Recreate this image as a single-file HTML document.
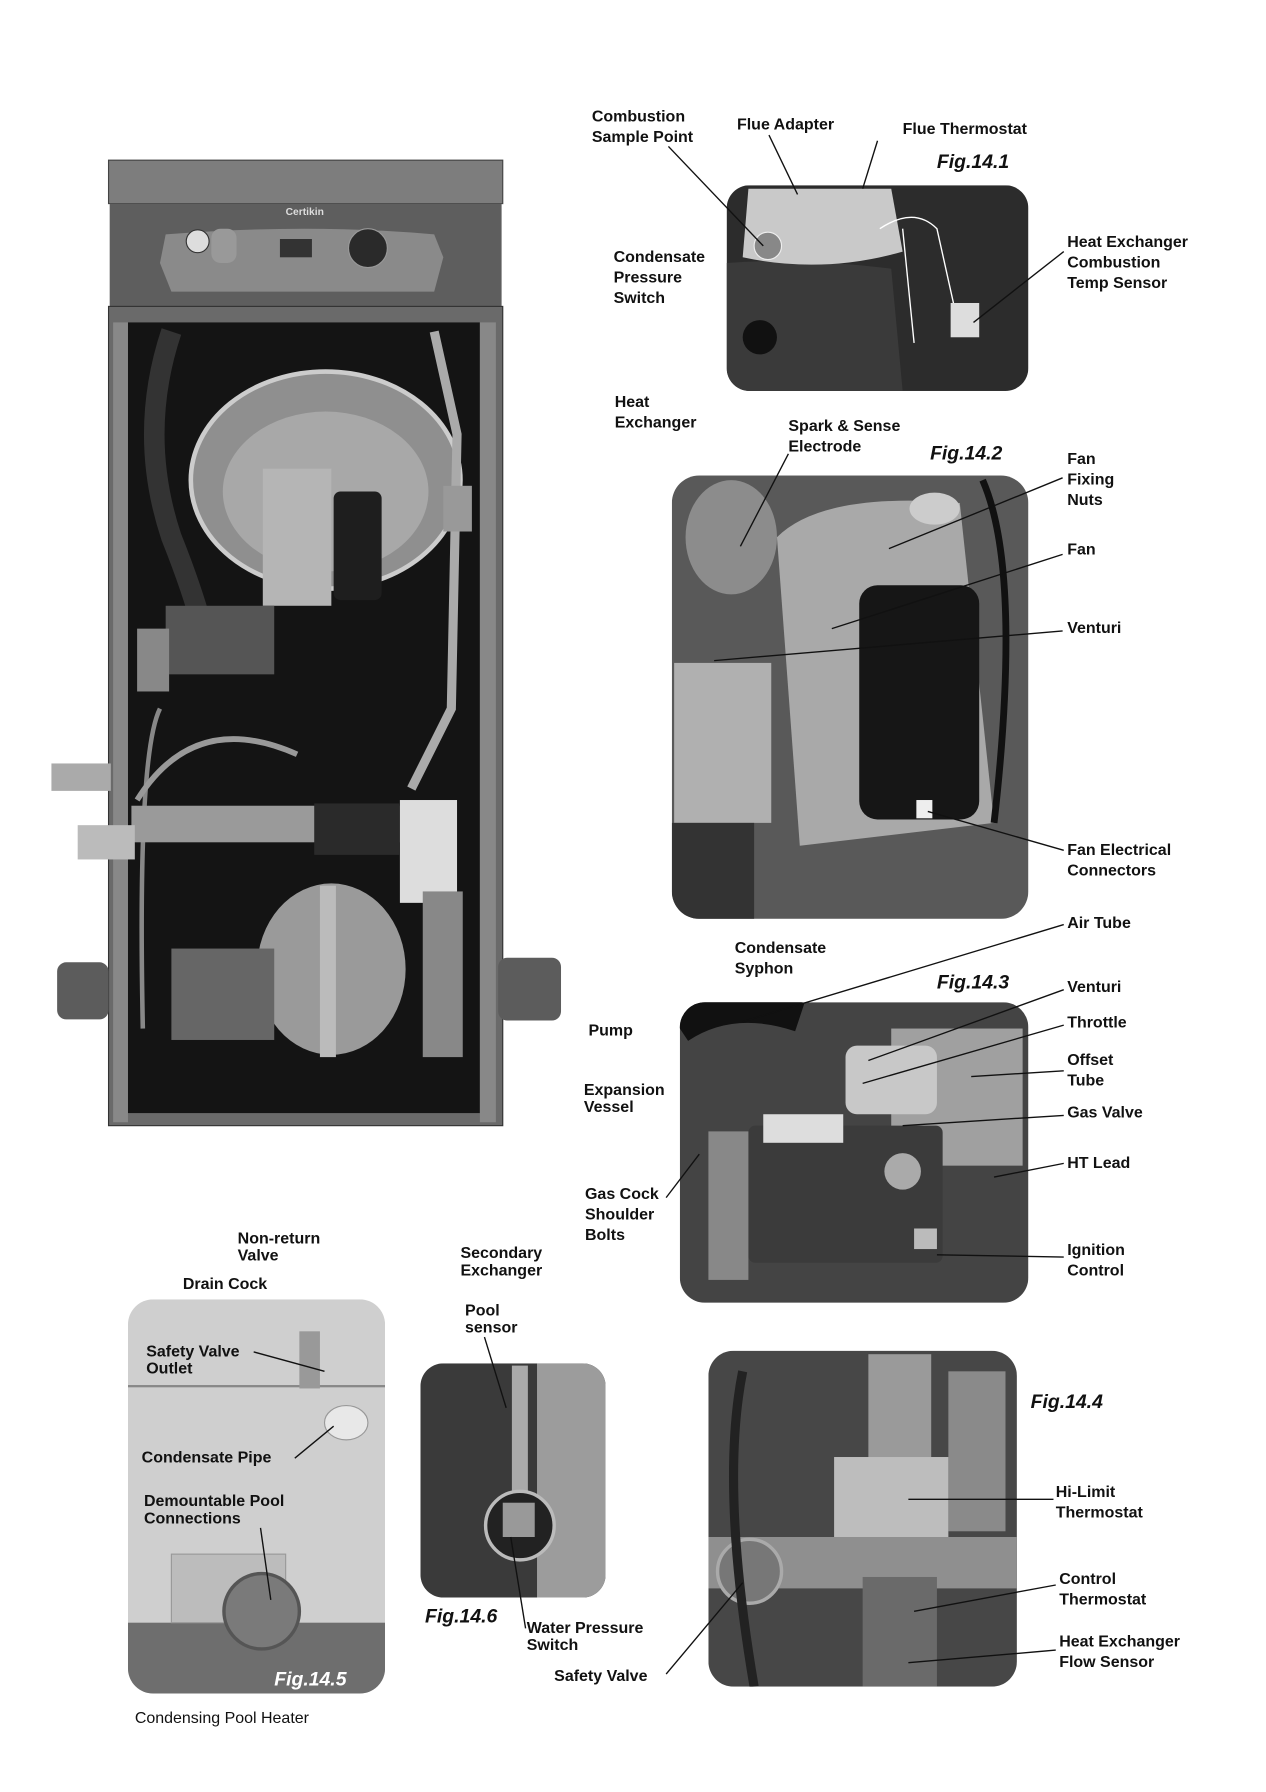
<!DOCTYPE html>
<html><head><meta charset="utf-8"><style>
html,body{margin:0;padding:0;background:#fff;}
svg{display:block}
text{font-family:"Liberation Sans",Arial,sans-serif;font-weight:bold;font-size:14px;fill:#111}
.fig{font-style:italic;font-size:17px}
.l{stroke:#111;stroke-width:1.2;fill:none}
.w{stroke:#fff;stroke-width:1.2;fill:none}
</style></head><body>
<svg width="1266" height="1792" viewBox="0 0 1108 1568" xmlns="http://www.w3.org/2000/svg">
<defs>
<clipPath id="c1"><rect x="636" y="162" width="264" height="180" rx="20"/></clipPath>
<clipPath id="c2"><rect x="588" y="416" width="312" height="388" rx="24"/></clipPath>
<clipPath id="c3"><rect x="595" y="877" width="305" height="263" rx="22"/></clipPath>
<clipPath id="c4"><rect x="620" y="1182" width="270" height="294" rx="22"/></clipPath>
<clipPath id="c5"><rect x="112" y="1137" width="225" height="345" rx="22"/></clipPath>
<clipPath id="c6"><rect x="368" y="1193" width="162" height="205" rx="20"/></clipPath>
</defs>
<rect width="1108" height="1568" fill="#fff"/>
<!-- main heater -->
<rect x="95" y="140" width="345" height="38" fill="#7d7d7d" stroke="#444"/>
<rect x="96" y="178" width="343" height="90" fill="#5e5e5e"/>
<path d="M145 205 Q270 195 380 205 L388 225 L380 255 L150 255 L140 230 Z" fill="#8a8a8a"/>
<circle cx="173" cy="211" r="10" fill="#ddd" stroke="#333"/>
<circle cx="322" cy="217" r="17" fill="#2a2a2a" stroke="#999"/>
<rect x="185" y="200" width="22" height="30" rx="8" fill="#999"/>
<rect x="245" y="209" width="28" height="16" fill="#333"/>
<text x="250" y="188" style="font-size:9px;fill:#ddd">Certikin</text>
<rect x="95" y="268" width="345" height="717" fill="#6a6a6a" stroke="#333"/>
<rect x="112" y="282" width="308" height="692" fill="#141414"/>
<rect x="99" y="282" width="13" height="700" fill="#888"/>
<rect x="420" y="282" width="14" height="700" fill="#888"/>
<ellipse cx="285" cy="420" rx="118" ry="95" fill="#8f8f8f" stroke="#ccc" stroke-width="4"/>
<ellipse cx="285" cy="430" rx="90" ry="70" fill="#a8a8a8"/>
<rect x="230" y="410" width="60" height="120" fill="#b5b5b5"/>
<rect x="292" y="430" width="42" height="95" rx="6" fill="#1e1e1e"/>
<path d="M150 290 Q120 380 150 470 Q170 520 180 560" stroke="#333" stroke-width="18" fill="none"/>
<rect x="145" y="530" width="95" height="60" fill="#555"/>
<rect x="120" y="550" width="28" height="55" fill="#888"/>
<path d="M380 290 L400 380 L395 620 L360 690" stroke="#aaa" stroke-width="8" fill="none"/>
<rect x="388" y="425" width="25" height="40" fill="#999"/>
<path d="M140 620 Q120 660 125 900" stroke="#888" stroke-width="4" fill="none"/>
<path d="M120 700 Q170 620 260 660" stroke="#999" stroke-width="5" fill="none"/>
<rect x="115" y="705" width="255" height="32" fill="#9a9a9a"/>
<rect x="68" y="722" width="50" height="30" fill="#bbb"/>
<rect x="45" y="668" width="52" height="24" fill="#aaa"/>
<rect x="350" y="700" width="50" height="90" fill="#ddd"/>
<rect x="275" y="703" width="75" height="45" fill="#2a2a2a"/>
<rect x="370" y="780" width="35" height="145" fill="#888"/>
<ellipse cx="290" cy="848" rx="65" ry="75" fill="#9a9a9a"/>
<rect x="280" y="775" width="14" height="150" fill="#bbb"/>
<rect x="150" y="830" width="90" height="80" fill="#666"/>
<rect x="50" y="842" width="45" height="50" rx="8" fill="#5c5c5c"/>
<rect x="436" y="838" width="55" height="55" rx="8" fill="#5c5c5c"/>
<!-- Fig 14.1 -->
<g clip-path="url(#c1)">
<rect x="636" y="162" width="264" height="180" fill="#2c2c2c"/>
<path d="M636 230 Q700 225 780 235 L790 342 L636 342 Z" fill="#3a3a3a"/>
<path d="M655 165 L780 165 L790 220 Q720 240 650 225 Z" fill="#c9c9c9"/>
<circle cx="672" cy="215" r="12" fill="#888" stroke="#eee"/>
<path d="M770 200 Q800 180 820 200 L840 290 M790 200 L800 300" class="w" stroke-width="2"/>
<rect x="832" y="265" width="25" height="30" fill="#ddd"/>
<circle cx="665" cy="295" r="15" fill="#111"/>
</g>
<!-- Fig 14.2 -->
<g clip-path="url(#c2)">
<rect x="588" y="416" width="312" height="388" fill="#595959"/>
<path d="M680 470 Q720 430 840 440 L870 720 L700 740 Z" fill="#a9a9a9"/>
<rect x="752" y="512" width="105" height="205" rx="16" fill="#161616"/>
<ellipse cx="640" cy="470" rx="40" ry="50" fill="#8c8c8c"/>
<rect x="590" y="580" width="85" height="140" fill="#b0b0b0"/>
<rect x="588" y="720" width="72" height="84" fill="#333"/>
<path d="M860 420 Q895 500 870 720" stroke="#111" stroke-width="6" fill="none"/>
<rect x="802" y="700" width="14" height="16" fill="#eee"/>
<ellipse cx="818" cy="445" rx="22" ry="14" fill="#ccc"/>
</g>
<!-- Fig 14.3 -->
<g clip-path="url(#c3)">
<rect x="595" y="877" width="305" height="263" fill="#444"/>
<path d="M595 900 Q640 870 700 890" stroke="#111" stroke-width="26" fill="none"/>
<rect x="780" y="900" width="115" height="120" fill="#a0a0a0"/>
<rect x="740" y="915" width="80" height="60" rx="10" fill="#c8c8c8"/>
<rect x="655" y="985" width="170" height="120" rx="6" fill="#3b3b3b"/>
<rect x="668" y="975" width="70" height="25" fill="#ddd"/>
<circle cx="790" cy="1025" r="16" fill="#aaa"/>
<rect x="620" y="990" width="35" height="130" fill="#888"/>
<rect x="800" y="1075" width="20" height="18" fill="#bbb"/>
</g>
<!-- Fig 14.4 -->
<g clip-path="url(#c4)">
<rect x="620" y="1182" width="270" height="294" fill="#474747"/>
<rect x="760" y="1185" width="55" height="120" fill="#9a9a9a"/>
<rect x="830" y="1200" width="50" height="140" fill="#8a8a8a"/>
<rect x="730" y="1275" width="100" height="75" fill="#bdbdbd"/>
<rect x="620" y="1345" width="270" height="45" fill="#8f8f8f"/>
<circle cx="656" cy="1375" r="28" fill="#777" stroke="#aaa" stroke-width="3"/>
<rect x="755" y="1380" width="65" height="96" fill="#6a6a6a"/>
<path d="M650 1200 Q630 1300 660 1476" stroke="#222" stroke-width="8" fill="none"/>
</g>
<!-- Fig 14.5 -->
<g clip-path="url(#c5)">
<rect x="112" y="1137" width="225" height="345" fill="#cfcfcf"/>
<rect x="112" y="1212" width="225" height="2" fill="#888"/>
<rect x="112" y="1420" width="225" height="62" fill="#6e6e6e"/>
<rect x="150" y="1360" width="100" height="60" fill="#bcbcbc" stroke="#999"/>
<circle cx="229" cy="1410" r="33" fill="#7a7a7a" stroke="#555" stroke-width="3"/>
<rect x="262" y="1165" width="18" height="50" fill="#999"/>
<ellipse cx="303" cy="1245" rx="19" ry="15" fill="#e8e8e8" stroke="#999"/>
</g>
<text x="240" y="1475" class="fig" style="fill:#fff">Fig.14.5</text>
<!-- Fig 14.6 -->
<g clip-path="url(#c6)">
<rect x="368" y="1193" width="162" height="205" fill="#3a3a3a"/>
<rect x="470" y="1193" width="60" height="205" fill="#9c9c9c"/>
<rect x="448" y="1195" width="14" height="120" fill="#aaa"/>
<circle cx="455" cy="1335" r="30" fill="#222" stroke="#bbb" stroke-width="3"/>
<rect x="440" y="1315" width="28" height="30" fill="#999"/>
</g>
<!-- Labels -->
<text x="518" y="106">Combustion</text><text x="518" y="124">Sample Point</text>
<text x="645" y="113">Flue Adapter</text>
<text x="790" y="117">Flue Thermostat</text>
<text x="820" y="147" class="fig">Fig.14.1</text>
<text x="537" y="229">Condensate</text><text x="537" y="247">Pressure</text><text x="537" y="265">Switch</text>
<text x="934" y="216">Heat Exchanger</text><text x="934" y="234">Combustion</text><text x="934" y="252">Temp Sensor</text>
<text x="538" y="356">Heat</text><text x="538" y="374">Exchanger</text>
<text x="690" y="377">Spark &amp; Sense</text><text x="690" y="395">Electrode</text>
<text x="814" y="402" class="fig">Fig.14.2</text>
<text x="934" y="406">Fan</text><text x="934" y="424">Fixing</text><text x="934" y="442">Nuts</text>
<text x="934" y="485">Fan</text>
<text x="934" y="554">Venturi</text>
<text x="934" y="748">Fan Electrical</text><text x="934" y="766">Connectors</text>
<text x="934" y="812">Air Tube</text>
<text x="643" y="834">Condensate</text><text x="643" y="852">Syphon</text>
<text x="820" y="865" class="fig">Fig.14.3</text>
<text x="934" y="868">Venturi</text>
<text x="934" y="899">Throttle</text>
<text x="934" y="932">Offset</text><text x="934" y="950">Tube</text>
<text x="515" y="906">Pump</text>
<text x="511" y="958">Expansion</text><text x="511" y="973">Vessel</text>
<text x="934" y="978">Gas Valve</text>
<text x="934" y="1022">HT Lead</text>
<text x="512" y="1049">Gas Cock</text><text x="512" y="1067">Shoulder</text><text x="512" y="1085">Bolts</text>
<text x="934" y="1098">Ignition</text><text x="934" y="1116">Control</text>
<text x="208" y="1088">Non-return</text><text x="208" y="1103">Valve</text>
<text x="403" y="1101">Secondary</text><text x="403" y="1116">Exchanger</text>
<text x="160" y="1128">Drain Cock</text>
<text x="407" y="1151">Pool</text><text x="407" y="1166">sensor</text>
<text x="128" y="1187">Safety Valve</text><text x="128" y="1202">Outlet</text>
<text x="902" y="1232" class="fig">Fig.14.4</text>
<text x="124" y="1280">Condensate Pipe</text>
<text x="924" y="1310">Hi-Limit</text><text x="924" y="1328">Thermostat</text>
<text x="126" y="1318">Demountable Pool</text><text x="126" y="1333">Connections</text>
<text x="927" y="1386">Control</text><text x="927" y="1404">Thermostat</text>
<text x="372" y="1420" class="fig">Fig.14.6</text>
<text x="461" y="1429">Water Pressure</text><text x="461" y="1444">Switch</text>
<text x="927" y="1441">Heat Exchanger</text><text x="927" y="1459">Flow Sensor</text>
<text x="485" y="1471">Safety Valve</text>
<text x="118" y="1508" style="font-weight:normal">Condensing Pool Heater</text>
<!-- leader lines -->
<path class="l" d="M585 128 L668 215"/>
<path class="l" d="M673 118 L698 170"/>
<path class="l" d="M768 123 L755 165"/>
<path class="l" d="M931 220 L852 282"/>
<path class="l" d="M690 397 L648 478"/>
<path class="l" d="M930 418 L778 480"/>
<path class="l" d="M930 485 L728 550"/>
<path class="l" d="M930 552 L625 578"/>
<path class="l" d="M931 744 L812 710"/>
<path class="l" d="M931 809 L650 894"/>
<path class="l" d="M931 866 L760 928"/>
<path class="l" d="M931 897 L755 948"/>
<path class="l" d="M931 937 L850 942"/>
<path class="l" d="M931 976 L790 985"/>
<path class="l" d="M931 1018 L870 1030"/>
<path class="l" d="M931 1100 L820 1098"/>
<path class="l" d="M583 1048 L612 1010"/>
<path class="l" d="M222 1183 L284 1200"/>
<path class="l" d="M258 1276 L292 1248"/>
<path class="l" d="M228 1337 L237 1400"/>
<path class="l" d="M424 1170 L443 1232"/>
<path class="l" d="M460 1425 L447 1345"/>
<path class="l" d="M922 1312 L795 1312"/>
<path class="l" d="M924 1387 L800 1410"/>
<path class="l" d="M924 1444 L795 1455"/>
<path class="l" d="M583 1465 L650 1385"/>
</svg>
</body></html>
